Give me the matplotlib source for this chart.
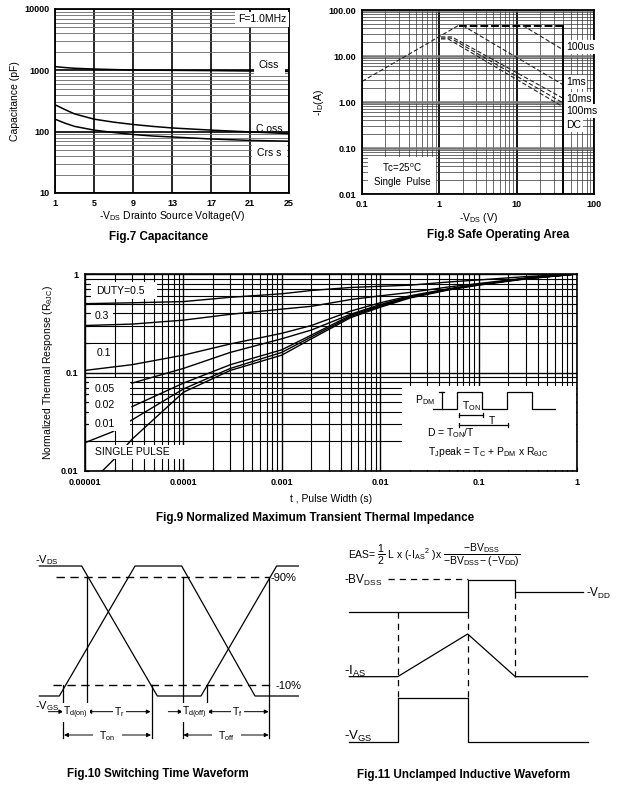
import matplotlib
matplotlib.use("Agg")
import matplotlib.pyplot as plt
from matplotlib.patches import Rectangle
from matplotlib.ticker import FixedLocator, LogLocator, NullFormatter

plt.rcParams['font.family'] = ['Liberation Sans', 'DejaVu Sans']
plt.rcParams['mathtext.fontset'] = 'custom'
plt.rcParams['mathtext.rm'] = 'Liberation Sans'
plt.rcParams['mathtext.it'] = 'Liberation Sans'
plt.rcParams['mathtext.bf'] = 'Liberation Sans:bold'
plt.rcParams['mathtext.sf'] = 'Liberation Sans'

# ---- Fig.7 capacitance data
vds = [1, 2, 3, 5, 7, 9, 11, 13, 17, 21, 25]
ciss = [1150, 1110, 1080, 1050, 1030, 1010, 1005, 1000, 990, 975, 960]
coss = [275, 230, 195, 160, 143, 131, 122, 115, 106, 99, 93]
crss = [160, 138, 122, 106, 97, 90, 85, 82, 76, 72, 70]
vds_ticks = [1, 5, 9, 13, 17, 21, 25]

# ---- Fig.8 SOA data
soa_rds_v, soa_rds_i = [0.1, 1.8], [2.8, 47]
soa_top_v, soa_top_i = [1.8, 40], [46, 46]
soa_100us_v, soa_100us_i = [12, 40], [46, 13.6]
soa_1ms_v, soa_1ms_i = [2.0, 40], [46, 2.36]
soa_10ms_v, soa_10ms_i = [1.05, 1.45, 40], [26, 26, 1.2]
soa_100ms_v, soa_100ms_i = [1.05, 1.4, 40], [24.5, 24.5, 0.95]
soa_dc_v, soa_dc_i = [1.05, 1.3, 40], [23.5, 23.5, 0.78]
soa_vmax = 40
soa_labels = ['100us', '1ms', '10ms', '100ms', 'DC']

# ---- Fig.9 transient thermal impedance
t_full = [1e-5, 3e-5, 1e-4, 3e-4, 1e-3, 2e-3, 5e-3, 1e-2, 2e-2, 5e-2, 0.1, 0.3, 1]
z_d50 = [0.50, 0.51, 0.525, 0.58, 0.63, 0.68, 0.73, 0.75, 0.77, 0.83, 0.87, 0.94, 1.0]
z_d30 = [0.30, 0.31, 0.34, 0.39, 0.44, 0.47, 0.55, 0.60, 0.65, 0.74, 0.80, 0.91, 1.0]
z_d10 = [0.105, 0.12, 0.15, 0.195, 0.25, 0.30, 0.42, 0.51, 0.60, 0.71, 0.78, 0.90, 1.0]
t_part = [3e-5, 1e-4, 3e-4, 1e-3, 2e-3, 5e-3, 1e-2, 2e-2, 5e-2, 0.1, 0.3, 1]
z_d05 = [0.078, 0.11, 0.16, 0.22, 0.27, 0.39, 0.49, 0.59, 0.70, 0.78, 0.90, 1.0]
z_d02 = [0.045, 0.078, 0.12, 0.17, 0.24, 0.38, 0.48, 0.58, 0.70, 0.78, 0.90, 1.0]
t_d01 = [1e-5, 1.9e-5, 3e-5, 1e-4, 3e-4, 1e-3, 2e-3, 5e-3, 1e-2, 2e-2, 5e-2, 0.1, 0.3, 1]
z_d01 = [0.0194, 0.025, 0.033, 0.068, 0.11, 0.16, 0.23, 0.37, 0.47, 0.58, 0.70, 0.78, 0.90, 1.0]
t_single = [1.5e-5, 2.1e-5, 3e-5, 1e-4, 3e-4, 1e-3, 2e-3, 5e-3, 1e-2, 2e-2, 5e-2, 0.1, 0.3, 1]
z_single = [0.01, 0.014, 0.021, 0.063, 0.105, 0.15, 0.22, 0.36, 0.46, 0.57, 0.69, 0.77, 0.89, 1.0]
t_ticks = [1e-5, 1e-4, 1e-3, 1e-2, 1e-1, 1]
t_ticklabels = ['0.00001', '0.0001', '0.001', '0.01', '0.1', '1']

# ---- Fig.10 switching waveform (drawing units)
vds_wave_x = [118, 245, 472, 603, 830, 895]
vds_wave_y = [93, 93, 483, 483, 93, 93]
vgs_wave_x = [118, 178, 405, 545, 765, 895]
vgs_wave_y = [483, 483, 93, 93, 483, 483]
marker_x = [190, 262, 455, 548, 620, 808]
marker_top = [450, 125, 450, 125, 450, 125]
marker_bot = [610, 545, 610, 610, 545, 610]

# ---- Fig.11 unclamped inductive waveform (drawing units)
uis_vds_x = [100, 455, 455, 598, 598, 800]
uis_vds_y = [230, 230, 135, 135, 170, 170]
uis_ias_x = [100, 245, 455, 598, 815]
uis_ias_y = [425, 425, 297, 425, 425]
uis_vgs_x = [100, 245, 245, 455, 455, 815]
uis_vgs_y = [620, 620, 490, 490, 620, 620]

W, H = 632, 798
fig = plt.figure(figsize=(W / 100, H / 100), dpi=100)


def add_ax(l, t, r, b):
    return fig.add_axes([l / W, 1 - b / H, (r - l) / W, (b - t) / H])


def ftext(x, y, s, **kw):
    fig.text(x / W, 1 - y / H, s, **kw)


box_kw = dict(boxstyle='square,pad=0.25', fc='white', ec='none')

# ================= Fig.7 =================
ax = add_ax(55, 9, 289, 193)
ax.set_axisbelow(True)
ax.plot(vds, ciss, color='k', lw=1.1)
ax.plot(vds, coss, color='k', lw=1.1)
ax.plot(vds, crss, color='k', lw=1.1)
ax.set_yscale('log')
ax.set_xlim(1, 25)
ax.set_ylim(10, 10000)
ax.set_xticks(vds_ticks)
ax.yaxis.set_major_locator(FixedLocator([10, 100, 1000, 10000]))
ax.yaxis.set_minor_locator(LogLocator(base=10, subs=range(2, 10)))
ax.yaxis.set_minor_formatter(NullFormatter())
ax.set_yticklabels(['10', '100', '1000', '10000'])
ax.grid(True, which='major', color='k', lw=1.2)
ax.grid(True, which='minor', axis='y', color='#666666', lw=0.6)
ax.tick_params(which='both', length=0, labelsize=6.5, pad=4)
for lab in ax.get_xticklabels() + ax.get_yticklabels():
    lab.set_fontweight('bold')
for sp in ax.spines.values():
    sp.set_linewidth(1.3)
ax.set_ylabel('Capacitance (pF)', fontsize=7.5, labelpad=3)
ax.set_xlabel('-V$_{DS}$ Drainto Source Voltage(V)', fontsize=7.5, labelpad=1)
ax.text(0.885, 0.943, 'F=1.0MHz', transform=ax.transAxes, fontsize=7.5,
        ha='center', va='center', bbox=box_kw, zorder=5)
ax.text(0.915, 0.695, 'Ciss', transform=ax.transAxes, fontsize=7.5,
        ha='center', va='center', bbox=dict(boxstyle='square,pad=0.5', fc='white', ec='none'), zorder=5)
ax.text(0.915, 0.35, 'C oss', transform=ax.transAxes, fontsize=7.5,
        ha='center', va='center', zorder=5)
ax.text(0.915, 0.215, 'Crs s', transform=ax.transAxes, fontsize=7.5,
        ha='center', va='center', bbox=dict(boxstyle='square,pad=0.5', fc='white', ec='none'), zorder=5)
ftext(159, 237, 'Fig.7 Capacitance', fontsize=8.4, fontweight='bold', ha='center', va='center')

# ================= Fig.8 =================
ax = add_ax(362, 10, 594, 194)
ax.set_axisbelow(True)
dash = dict(color='#222222', lw=0.8, dashes=(4, 2))
ax.plot(soa_rds_v, soa_rds_i, **dash)
ax.plot(soa_top_v, soa_top_i, color='k', lw=1.4, dashes=(4, 1.5))
ax.plot(soa_100us_v, soa_100us_i, **dash)
ax.plot(soa_1ms_v, soa_1ms_i, **dash)
ax.plot(soa_10ms_v, soa_10ms_i, **dash)
ax.plot(soa_100ms_v, soa_100ms_i, **dash)
ax.plot(soa_dc_v, soa_dc_i, **dash)
ax.plot([soa_vmax, soa_vmax], [soa_top_i[0], 0.01], color='k', lw=1.4)
ax.set_xscale('log')
ax.set_yscale('log')
ax.set_xlim(0.1, 100)
ax.set_ylim(0.01, 100)
ax.xaxis.set_major_locator(FixedLocator([0.1, 1, 10, 100]))
ax.set_xticklabels(['0.1', '1', '10', '100'])
ax.yaxis.set_major_locator(FixedLocator([0.01, 0.1, 1, 10, 100]))
ax.set_yticklabels(['0.01', '0.10', '1.00', '10.00', '100.00'])
for a in (ax.xaxis, ax.yaxis):
    a.set_minor_locator(LogLocator(base=10, subs=range(2, 10)))
    a.set_minor_formatter(NullFormatter())
ax.grid(True, which='major', axis='x', color='k', lw=1.3)
ax.grid(True, which='major', axis='y', color='#777777', lw=1.8)
ax.grid(True, which='minor', color='#333333', lw=0.5)
ax.tick_params(which='both', length=0, labelsize=6.5, pad=4)
for lab in ax.get_xticklabels() + ax.get_yticklabels():
    lab.set_fontweight('bold')
for sp in ax.spines.values():
    sp.set_linewidth(1.3)
ax.set_ylabel('-I$_{D}$(A)', fontsize=7.5, labelpad=2)
ax.set_xlabel('-V$_{DS}$ (V)', fontsize=7.5, labelpad=2)
lab_y = [47, 82, 99, 111, 125]
for s, yy in zip(soa_labels, lab_y):
    ax.text((566 - 362) / 232, (194 - yy) / 184, s, transform=ax.transAxes,
            fontsize=7.5, ha='left', va='center', bbox=dict(boxstyle='square,pad=0.15', fc='white', ec='none'), zorder=5)
ax.add_patch(Rectangle(((368 - 362) / 232, 0.005), (436 - 368) / 232, (193 - 157) / 184,
                       transform=ax.transAxes, fc='white', ec='none', zorder=4))
ax.text((402 - 362) / 232, (194 - 168) / 184, 'Tc=25$^{o}$C', transform=ax.transAxes,
        fontsize=7, ha='center', va='center', zorder=5)
ax.text((402 - 362) / 232, (194 - 182) / 184, 'Single  Pulse', transform=ax.transAxes,
        fontsize=7, ha='center', va='center', zorder=5)
ftext(498, 235, 'Fig.8 Safe Operating Area', fontsize=8.4, fontweight='bold', ha='center', va='center')

# ================= Fig.9 =================
L9, T9, R9, B9 = 85, 274, 577, 471
ax = add_ax(L9, T9, R9, B9)
ax.set_axisbelow(True)


def a9(ox, oy):
    return ((ox - L9) / (R9 - L9), (B9 - oy) / (B9 - T9))


for tt, zz in [(t_full, z_d50), (t_full, z_d30), (t_full, z_d10), (t_part, z_d05),
               (t_part, z_d02), (t_d01, z_d01), (t_single, z_single)]:
    ax.plot(tt, zz, color='k', lw=1.0)
ax.set_xscale('log')
ax.set_yscale('log')
ax.set_xlim(1e-5, 1)
ax.set_ylim(0.01, 1)
ax.xaxis.set_major_locator(FixedLocator(t_ticks))
ax.set_xticklabels(t_ticklabels)
ax.yaxis.set_major_locator(FixedLocator([0.01, 0.1, 1]))
ax.set_yticklabels(['0.01', '0.1', '1'])
for a in (ax.xaxis, ax.yaxis):
    a.set_minor_locator(LogLocator(base=10, subs=range(2, 10)))
    a.set_minor_formatter(NullFormatter())
ax.grid(True, which='major', color='k', lw=1.0)
ax.grid(True, which='minor', color='k', lw=0.8)
ax.tick_params(which='both', direction='in', length=3, width=0.8, labelsize=6.5, pad=5)
for lab in ax.get_xticklabels() + ax.get_yticklabels():
    lab.set_fontweight('bold')
for sp in ax.spines.values():
    sp.set_linewidth(1.2)
ax.set_ylabel('Normalized Thermal Response (R$_{θJC}$)', fontsize=7.5, labelpad=4)
ax.set_xlabel('t , Pulse Width (s)', fontsize=7.5, labelpad=5)

# label patches
for (x0, y0, x1, y1) in [(91, 282, 157, 299), (91, 308, 113, 324), (92, 344, 114, 362),
                         (89, 378, 130, 431), (93, 445, 187, 459)]:
    p0 = a9(x0, y1)
    p1 = a9(x1, y0)
    ax.add_patch(Rectangle(p0, p1[0] - p0[0], p1[1] - p0[1], transform=ax.transAxes,
                           fc='white', ec='none', zorder=3))
for s, ox, oy in [('DUTY=0.5', 96, 290.5), ('0.3', 95, 316), ('0.1', 97, 353),
                  ('0.05', 95, 388.5), ('0.02', 95, 405.5), ('0.01', 95, 424),
                  ('SINGLE PULSE', 95, 452)]:
    xa, ya = a9(ox, oy)
    ax.text(xa, ya, s, transform=ax.transAxes, fontsize=7.5, ha='left', va='center', zorder=5)

# inset pulse diagram
ins = add_ax(402, 386, 576.4, 470.4)
ins.set_xlim(402, 576.4)
ins.set_ylim(470.4, 386)
ins.set_xticks([])
ins.set_yticks([])
for sp in ins.spines.values():
    sp.set_visible(False)
pulse_x = [433.3, 457.3, 457.3, 481.7, 481.7, 506.7, 506.7, 531.7, 531.7, 555]
pulse_y = [409.3, 409.3, 391.7, 391.7, 409.3, 409.3, 391.7, 391.7, 409.3, 409.3]
ins.plot(pulse_x, pulse_y, color='k', lw=0.9)
ins.plot([441.7, 441.7], [391.7, 409.3], color='k', lw=0.9)
ins.plot([439.2, 444.2], [391.7, 391.7], color='k', lw=0.9)
for y_dim, x_end in [(415, 483.3), (425, 508.3)]:
    ins.plot([459, x_end], [y_dim, y_dim], color='k', lw=0.9)
    ins.plot([459, 459], [y_dim - 1.8, y_dim + 1.8], color='k', lw=0.9)
    ins.plot([x_end, x_end], [y_dim - 1.8, y_dim + 1.8], color='k', lw=0.9)
ins.text(415, 400, 'P$_{DM}$', fontsize=7.5, ha='left', va='center')
ins.text(462.5, 406.5, 'T$_{ON}$', fontsize=7.5, ha='left', va='center')
ins.text(491.7, 420.5, 'T', fontsize=7.5, ha='center', va='center')
ins.text(427.5, 433.5, 'D = T$_{ON}$/T', fontsize=7.5, ha='left', va='center')
ins.text(428, 451.5, 'T$_{J}$peak = T$_{C}$ + P$_{DM}$ x R$_{θJC}$', fontsize=7.5, ha='left', va='center')
ftext(315, 518, 'Fig.9 Normalized Maximum Transient Thermal Impedance', fontsize=8.4,
      fontweight='bold', ha='center', va='center')

# ================= Fig.10 =================
ax = add_ax(0, 535, 316, 798)
ax.set_xlim(0, 948)
ax.set_ylim(789, 0)
ax.axis('off')
ax.plot(vds_wave_x, vds_wave_y, color='k', lw=0.9)
ax.plot(vgs_wave_x, vgs_wave_y, color='k', lw=0.9)
ax.plot([168, 808], [125, 125], color='k', lw=1.0, dashes=(6, 4))
ax.plot([160, 822], [450, 450], color='k', lw=1.0, dashes=(6, 4))
ax.text(812, 130, '-90%', fontsize=8, ha='left', va='center')
ax.text(826, 452, '-10%', fontsize=8, ha='left', va='center')
for xm, yt, yb in zip(marker_x, marker_top, marker_bot):
    ax.plot([xm, xm], [yt, yb], color='k', lw=0.9)
ax.text(105, 75, '-V$_{DS}$', fontsize=8, ha='left', va='center')
ax.text(105, 512, '-V$_{GS}$', fontsize=8, ha='left', va='center')
arr = dict(arrowstyle='-|>', lw=0.7, color='k', mutation_scale=6, shrinkA=0, shrinkB=0)
arr2 = dict(arrowstyle='<|-|>', lw=0.7, color='k', mutation_scale=6, shrinkA=0, shrinkB=0)
tb = dict(boxstyle='square,pad=0.1', fc='white', ec='none')
ax.annotate('', xy=(190, 530), xytext=(145, 530), arrowprops=arr)
ax.annotate('', xy=(548, 530), xytext=(505, 530), arrowprops=arr)
ax.annotate('', xy=(262, 530), xytext=(452, 530), arrowprops=arr2)
ax.annotate('', xy=(622, 530), xytext=(806, 530), arrowprops=arr2)
ax.annotate('', xy=(192, 600), xytext=(453, 600), arrowprops=arr2)
ax.annotate('', xy=(550, 600), xytext=(806, 600), arrowprops=arr2)
ax.text(228, 532, 'T$_{d(on)}$', fontsize=7.5, ha='center', va='center', bbox=tb)
ax.text(358, 532, 'T$_{r}$', fontsize=7.5, ha='center', va='center', bbox=tb)
ax.text(585, 532, 'T$_{d(off)}$', fontsize=7.5, ha='center', va='center', bbox=tb)
ax.text(712, 532, 'T$_{f}$', fontsize=7.5, ha='center', va='center', bbox=tb)
ax.text(322, 602, 'T$_{on}$', fontsize=7.5, ha='center', va='center', bbox=dict(boxstyle='square,pad=0.6', fc='white', ec='none'))
ax.text(680, 602, 'T$_{off}$', fontsize=7.5, ha='center', va='center', bbox=dict(boxstyle='square,pad=0.6', fc='white', ec='none'))
ftext(158, 774, 'Fig.10 Switching Time Waveform', fontsize=8.4, fontweight='bold', ha='center', va='center')

# ================= Fig.11 =================
ax = add_ax(316, 535, 632, 798)
ax.set_xlim(0, 948)
ax.set_ylim(789, 0)
ax.axis('off')
ax.plot(uis_vds_x, uis_vds_y, color='k', lw=0.9)
ax.plot(uis_ias_x, uis_ias_y, color='k', lw=0.9)
ax.plot(uis_vgs_x, uis_vgs_y, color='k', lw=0.9)
vd = dict(color='k', lw=0.9, dashes=(5, 4))
ax.plot([215, 455], [132, 132], **vd)
ax.plot([245, 245], [232, 490], **vd)
ax.plot([455, 455], [232, 490], **vd)
ax.plot([598, 598], [172, 425], **vd)
ax.text(95, 62, r'EAS= $\dfrac{1}{2}$ L x (-I$_{AS}$$^{2}$ )x $\dfrac{-BV_{DSS}}{-BV_{DSS}-(-V_{DD})}$',
        fontsize=7.5, ha='left', va='center')
ax.text(85, 137, '-BV$_{DSS}$', fontsize=8.5, ha='left', va='center')
ax.text(810, 175, '-V$_{DD}$', fontsize=8.5, ha='left', va='center')
ax.text(85, 410, '-I$_{AS}$', fontsize=9.5, ha='left', va='center')
ax.text(85, 605, '-V$_{GS}$', fontsize=9.5, ha='left', va='center')
ftext(464, 775, 'Fig.11 Unclamped Inductive Waveform', fontsize=8.4, fontweight='bold', ha='center', va='center')

fig.savefig('out.png', dpi=100, facecolor='white')
